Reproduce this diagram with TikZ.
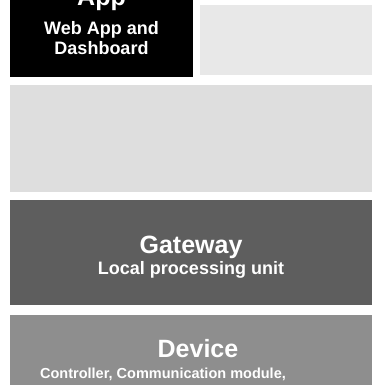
\documentclass[tikz,border=0pt]{standalone}
\usepackage{fontspec}
\setmainfont{Liberation Sans}
\definecolor{gwgray}{HTML}{5E5E5E}
\definecolor{devgray}{HTML}{8E8E8E}
\definecolor{lightA}{HTML}{E8E8E8}
\definecolor{lightB}{HTML}{DEDEDE}
\begin{document}
\begin{tikzpicture}[x=1pt,y=-1pt,
  layer/.style={draw=none,inner sep=0pt,outer sep=0pt},
  ttl/.style={text=white,font=\bfseries\fontsize{25}{28}\selectfont,anchor=base,inner sep=0pt},
  sub/.style={text=white,font=\bfseries\fontsize{18}{20}\selectfont,anchor=base,inner sep=0pt},
  subsm/.style={text=white,font=\bfseries\fontsize{14.5}{17}\selectfont,anchor=base,inner sep=0pt}]
\useasboundingbox (0,0) rectangle (375,385);
\clip (0,0) rectangle (375,385);
% boxes
\node[layer,fill=black,minimum width=183pt,minimum height=107pt] (app) at (101.5,23.5) {};
\node[layer,fill=lightA,minimum width=172pt,minimum height=70pt] (cloud) at (286,40) {};
\node[layer,fill=lightB,minimum width=362pt,minimum height=107pt] (mid) at (191,138.5) {};
\node[layer,fill=gwgray,minimum width=362pt,minimum height=105pt] (gw) at (191,252.5) {};
\node[layer,fill=devgray,minimum width=362pt,minimum height=110pt] (dev) at (191,370) {};
% texts
\node[ttl] (apptitle) at (101.5,6) {App};
\node[sub] (appsub1) at (101.5,35) {Web App and};
\node[sub] (appsub2) at (101.5,55) {Dashboard};
\node[ttl] (gwtitle) at (191,253) {Gateway};
\node[sub] (gwsub) at (191,274) {Local processing unit};
\node[ttl] (devtitle) at (198,357) {Device};
\node[subsm] (devsub) at (163,378) {Controller, Communication module,};
\end{tikzpicture}
\end{document}
